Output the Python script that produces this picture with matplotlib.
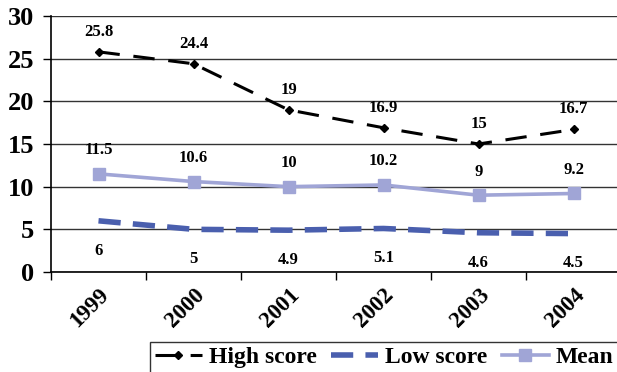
import matplotlib as mpl

mpl.use("Agg")
import matplotlib.pyplot as plt
import numpy as np

years = ["1999", "2000", "2001", "2002", "2003", "2004"]
high_score = [25.8, 24.4, 19, 16.9, 15, 16.7]
low_score = [6, 5, 4.9, 5.1, 4.6, 4.5]
mean_score = [11.5, 10.6, 10, 10.2, 9, 9.2]

plt.rcParams["font.family"] = ["Liberation Serif", "DejaVu Serif"]
plt.rcParams["font.weight"] = "bold"

fig = plt.figure(figsize=(6.17, 3.72), dpi=100)
fig.patch.set_facecolor("white")
ax = fig.add_axes([51 / 617, 1 - 272 / 372, 570 / 617, 256 / 372])

x = np.arange(len(years))
ax.plot(x, high_score, color="black", linestyle=(0, (7, 4.5)), linewidth=2.2,
        marker="D", markersize=4, label="High score")
ax.plot(x, low_score, color="#4a5fae", linestyle=(0, (4, 2.2)), linewidth=4,
        label="Low score")
ax.plot(x, mean_score, color="#a0a5d6", linewidth=2.6, marker="s",
        markersize=9, label="Mean")

label_kw = dict(ha="center", va="center", fontsize=12, fontweight="bold")
for xi, v in zip(x, high_score):
    ax.annotate(f"{v:g}", (xi, v), xytext=(0, 14.5), textcoords="offset points",
                **label_kw)
for xi, v in zip(x, mean_score):
    ax.annotate(f"{v:g}", (xi, v), xytext=(0, 17), textcoords="offset points",
                **label_kw)
for xi, v in zip(x, low_score):
    ax.annotate(f"{v:g}", (xi, v), xytext=(0, -21.5), textcoords="offset points",
                **label_kw)

ax.set_xlim(-0.5, len(years) - 0.5)
ax.set_ylim(0, 30)
ax.set_yticks(range(0, 31, 5))
ax.set_yticklabels([str(v) for v in range(0, 31, 5)], fontsize=19,
                   fontweight="bold")
ax.set_xticks(x)
ax.set_xticklabels(years, rotation=45, ha="right", rotation_mode="anchor",
                   fontsize=16.5, fontweight="bold")
ax.set_xticks(np.arange(-0.5, len(years)), minor=True)
ax.tick_params(axis="x", which="major", length=0, pad=9)
ax.tick_params(axis="x", which="minor", length=6, width=1, direction="out")
ax.tick_params(axis="y", length=6, width=1, direction="out", pad=6)

ax.grid(True, axis="y", color="#333333", linewidth=1)
ax.set_axisbelow(True)
for side in ("top", "right"):
    ax.spines[side].set_visible(False)
for side in ("left", "bottom"):
    ax.spines[side].set_linewidth(1.2)

leg = fig.legend(loc="upper left", bbox_to_anchor=(150 / 617, 1 - 342 / 372),
                 ncol=3, frameon=True, fancybox=False, edgecolor="black",
                 prop={"size": 17, "weight": "bold"}, handlelength=2.0,
                 columnspacing=0.6, handletextpad=0.3, borderpad=0.2,
                 borderaxespad=0)
leg.get_frame().set_linewidth(1)

fig.savefig("out.png", dpi=100, facecolor="white")
